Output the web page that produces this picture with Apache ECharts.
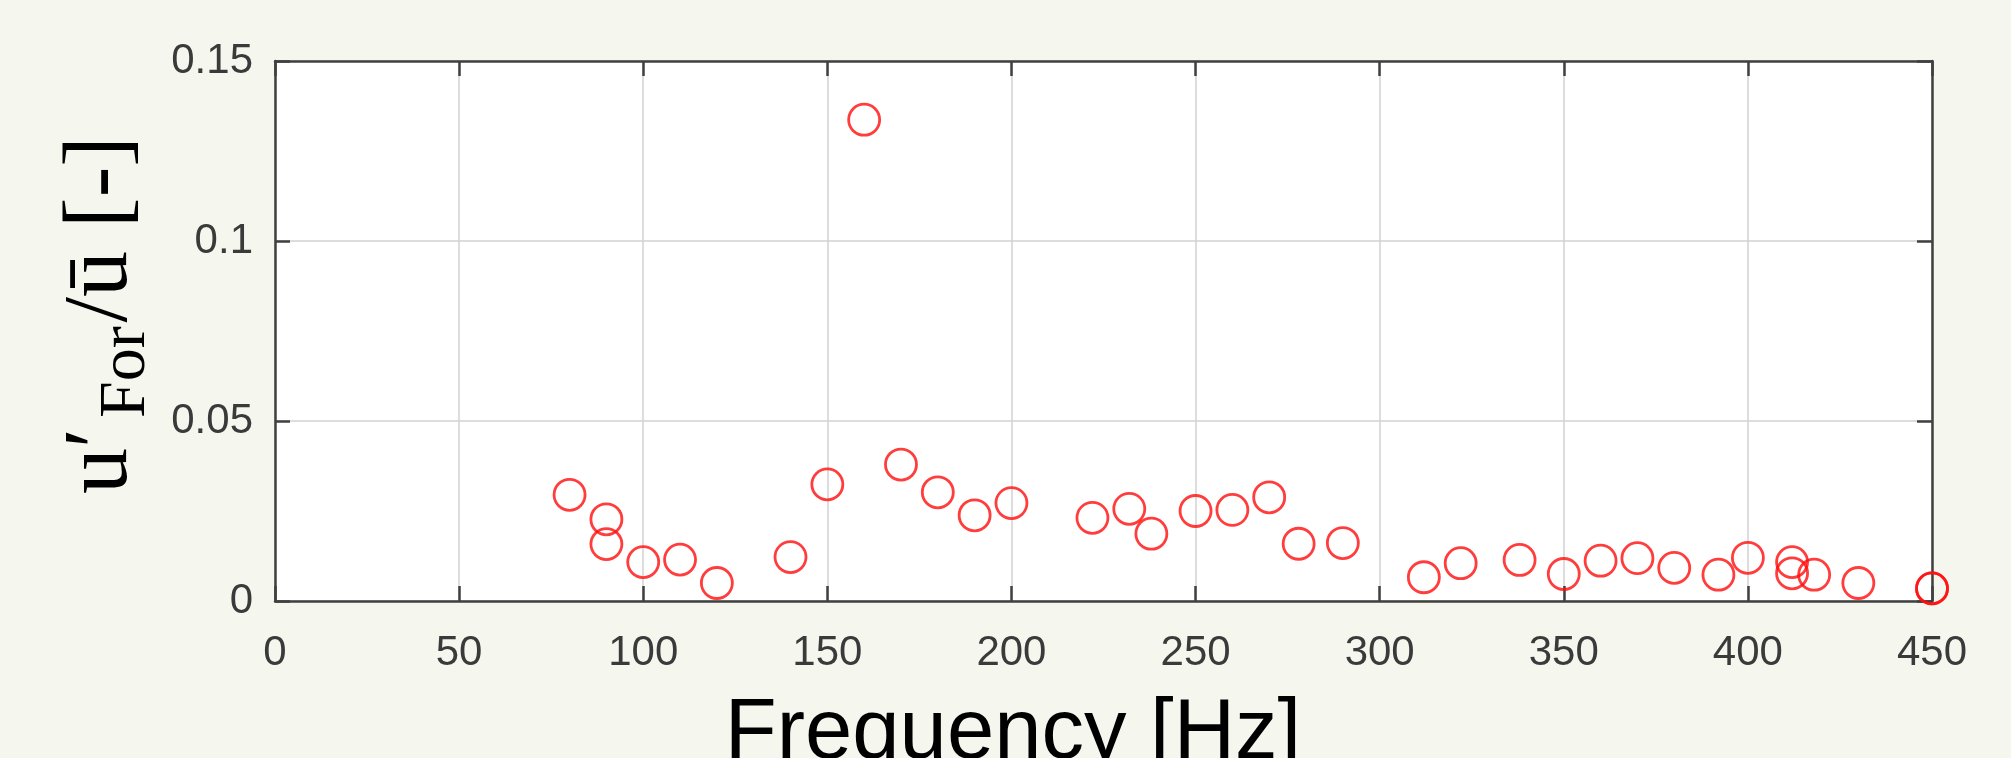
<!DOCTYPE html>
<html>
<head>
<meta charset="utf-8">
<script src="https://cdn.jsdelivr.net/npm/echarts@6/dist/echarts.min.js"></script>
<style>
  html, body { margin: 0; padding: 0; background: #f5f6ee; }
  #chart { width: 2011px; height: 758px; }
</style>
</head>
<body>
<div id="chart"></div>
<script>
// Forcing frequency [Hz] and normalised velocity fluctuation amplitude
const frequency = [80, 90, 90, 100, 110, 120, 140, 150, 160, 170, 180, 190, 200,
  222, 232, 238, 250, 260, 270, 278, 290, 312, 322, 338, 350, 360, 370, 380,
  392, 400, 412, 412, 418, 430, 450, 450];
const amplitude = [0.0295, 0.0227, 0.0158, 0.0108, 0.0115, 0.0050, 0.0122, 0.0324,
  0.1337, 0.0379, 0.0302, 0.0238, 0.0272, 0.0231, 0.0256, 0.0187, 0.0250, 0.0253,
  0.0288, 0.0159, 0.0161, 0.0066, 0.0105, 0.0114, 0.0075, 0.0112, 0.0119, 0.0092,
  0.0073, 0.0120, 0.0108, 0.0077, 0.0073, 0.0050, 0.0035, 0.0035];

const xTickLabels = ['0', '50', '100', '150', '200', '250', '300', '350', '400', '450'];
const yTickLabels = ['0', '0.05', '0.1', '0.15'];

const points = frequency.map((f, i) => [f, amplitude[i]]);

const axisColor = '#404040';
const frameLine = { show: true, onZero: false, lineStyle: { color: axisColor, width: 2.5 } };
const innerTick = { show: true, inside: true, length: 15, lineStyle: { color: axisColor, width: 2.5 } };
const gridLine = { show: true, lineStyle: { color: '#d2d2d2', width: 1.5 } };
const tickFont = { fontFamily: 'Liberation Sans', fontSize: 42, color: '#3a3a3a' };

const chart = echarts.init(document.getElementById('chart'), null, { renderer: 'canvas' });

chart.setOption({
  backgroundColor: '#f5f6ee',
  animation: false,
  grid: {
    left: 275, right: 79, top: 61, bottom: 157,
    show: true, backgroundColor: '#ffffff', borderWidth: 0
  },
  xAxis: [
    {
      type: 'value', position: 'bottom', min: 0, max: 450, interval: 50,
      axisLine: frameLine, axisTick: innerTick, splitLine: gridLine,
      axisLabel: Object.assign({
        margin: 31,
        formatter: (v) => xTickLabels[Math.round(v / 50)]
      }, tickFont)
    },
    {
      type: 'value', position: 'top', min: 0, max: 450, interval: 50,
      axisLine: frameLine, axisTick: innerTick, splitLine: { show: false },
      axisLabel: { show: false }
    }
  ],
  yAxis: [
    {
      type: 'value', position: 'left', min: 0, max: 0.15, interval: 0.05,
      axisLine: frameLine, axisTick: innerTick, splitLine: gridLine,
      axisLabel: Object.assign({
        margin: 22,
        formatter: (v) => yTickLabels[Math.round(v / 0.05)]
      }, tickFont)
    },
    {
      type: 'value', position: 'right', min: 0, max: 0.15, interval: 0.05,
      axisLine: frameLine, axisTick: innerTick, splitLine: { show: false },
      axisLabel: { show: false }
    }
  ],
  series: [
    {
      type: 'scatter',
      xAxisIndex: 0, yAxisIndex: 0,
      data: points,
      symbol: 'circle',
      symbolSize: 31,
      itemStyle: { color: 'rgba(0,0,0,0)', borderColor: '#ff0d0d', borderWidth: 2.8 },
      emphasis: { disabled: true }
    }
  ],
  graphic: [
    {
      type: 'text',
      x: 1013, y: 735,
      style: {
        text: 'Frequency [Hz]',
        fontFamily: 'Liberation Sans', fontSize: 85,
        fill: '#000000', align: 'center', verticalAlign: 'middle'
      }
    },
    {
      // rotated y-axis title: u′_For / ū [-]
      type: 'group',
      x: 133, y: 494,
      rotation: Math.PI / 2,
      children: [
        {
          type: 'text', x: 0, y: -31,
          style: { text: 'u′', fontFamily: 'Liberation Serif', fontSize: 92,
                   fill: '#000000', align: 'left', verticalAlign: 'middle' }
        },
        {
          type: 'text', x: 76, y: -6,
          style: { text: 'For', fontFamily: 'Liberation Serif', fontSize: 66,
                   fill: '#000000', align: 'left', verticalAlign: 'middle' }
        },
        {
          type: 'text', x: 358, y: -31,
          style: { text: '/ū [-]', fontFamily: 'Liberation Serif', fontSize: 92,
                   fill: '#000000', align: 'right', verticalAlign: 'middle' }
        }
      ]
    }
  ]
});
</script>
</body>
</html>
